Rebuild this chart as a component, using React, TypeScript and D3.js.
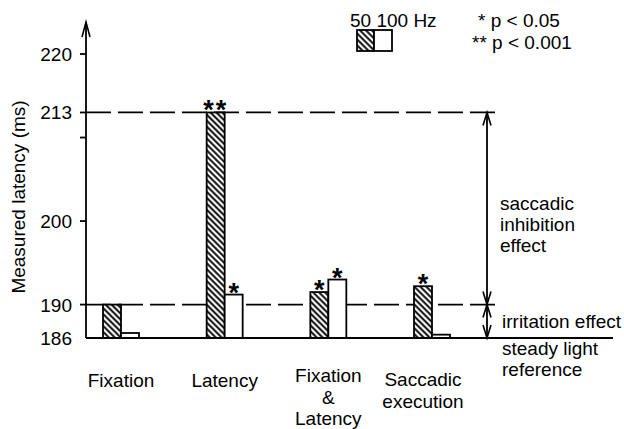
import React, { useRef, useEffect } from 'react';
import * as d3 from 'd3';

// Conditions on the x axis (with multi-line labels)
const categories = ['Fixation', 'Latency', 'Fixation & Latency', 'Saccadic execution'];
const categoryLabels = [['Fixation'], ['Latency'], ['Fixation', '&', 'Latency'], ['Saccadic', 'execution']];

// Measured latency (ms) per condition, 50 Hz and 100 Hz flicker
const latency50 = [190, 213, 191.5, 192.2];
const latency100 = [186.6, 191.2, 193, 186.4];

// significance markers
const sig50 = ['', '**', '*', '*'];
const sig100 = ['', '*', '*', ''];

const series = ['50', '100'];
const yTicks = [190, 200, 210, 213, 220];
const yTickLabels = ['190', '200', '', '213', '220'];

const W = 624;
const H = 429;
const FONT = 'Liberation Sans, Arial, sans-serif';

const App: React.FC = () => {
  const svgRef = useRef<SVGSVGElement>(null);

  useEffect(() => {
    if (!svgRef.current) return;
    const svg = d3.select(svgRef.current);
    svg.selectAll('*').remove();

    const axisX = 86;
    const y = d3.scaleLinear().domain([186, 220]).range([338, 54]);
    const x = d3.scalePoint<string>().domain(categories).range([121, 432]);
    const sub = d3.scaleBand<string>().domain(series).range([-18, 18]).padding(0);

    // hatch pattern (lines running top-left to bottom-right)
    const defs = svg.append('defs');
    const pat = defs.append('pattern')
      .attr('id', 'hatch')
      .attr('patternUnits', 'userSpaceOnUse')
      .attr('width', 4.2)
      .attr('height', 4.2)
      .attr('patternTransform', 'rotate(-45)');
    pat.append('rect').attr('width', 4.2).attr('height', 4.2).attr('fill', '#fff');
    pat.append('line')
      .attr('x1', 2.1).attr('y1', 0).attr('x2', 2.1).attr('y2', 4.2)
      .attr('stroke', '#000').attr('stroke-width', 1.9);

    const g = svg.append('g').style('font-family', FONT);

    // reference dashed lines at 213 and 190
    [213, 190].forEach(v => {
      g.append('line')
        .attr('x1', axisX).attr('x2', 499)
        .attr('y1', y(v)).attr('y2', y(v))
        .attr('stroke', '#000').attr('stroke-width', 1.8)
        .attr('stroke-dasharray', '25,7');
    });

    // bars
    categories.forEach((c, i) => {
      const cx = x(c) as number;
      const vals = [latency50[i], latency100[i]];
      const sigs = [sig50[i], sig100[i]];
      series.forEach((s, j) => {
        const x0 = cx + (sub(s) as number);
        g.append('rect')
          .attr('x', x0)
          .attr('y', y(vals[j]))
          .attr('width', sub.bandwidth())
          .attr('height', y(186) - y(vals[j]))
          .attr('fill', j === 0 ? 'url(#hatch)' : '#fff')
          .attr('stroke', '#000')
          .attr('stroke-width', 1.8);
        if (sigs[j]) {
          g.append('text')
            .attr('x', x0 + sub.bandwidth() / 2)
            .attr('y', y(vals[j]) + 7)
            .attr('text-anchor', 'middle')
            .style('font-size', '27px')
            .style('font-weight', 'bold')
            .attr('letter-spacing', sigs[j].length > 1 ? 2 : 0)
            .text(sigs[j]);
        }
      });
    });

    // baseline (steady light reference)
    g.append('line')
      .attr('x1', axisX).attr('x2', 613)
      .attr('y1', y(186)).attr('y2', y(186))
      .attr('stroke', '#000').attr('stroke-width', 2);

    // y axis with arrow
    g.append('line')
      .attr('x1', axisX).attr('x2', axisX)
      .attr('y1', y(186)).attr('y2', 22)
      .attr('stroke', '#000').attr('stroke-width', 1.8);
    g.append('path')
      .attr('d', `M${axisX - 4},37 L${axisX},22 L${axisX + 4},37`)
      .attr('fill', 'none').attr('stroke', '#000').attr('stroke-width', 1.6);

    yTicks.forEach((t, i) => {
      g.append('line')
        .attr('x1', axisX - 6).attr('x2', axisX)
        .attr('y1', y(t)).attr('y2', y(t))
        .attr('stroke', '#000').attr('stroke-width', 1.8);
      if (yTickLabels[i]) {
        g.append('text')
          .attr('x', axisX - 14)
          .attr('y', y(t) + 7)
          .attr('text-anchor', 'end')
          .style('font-size', '19px')
          .text(yTickLabels[i]);
      }
    });
    g.append('text')
      .attr('x', axisX - 14)
      .attr('y', y(186) + 7)
      .attr('text-anchor', 'end')
      .style('font-size', '19px')
      .text('186');

    g.append('text')
      .attr('transform', `translate(25, 197) rotate(-90)`)
      .attr('text-anchor', 'middle')
      .style('font-size', '19px')
      .text('Measured latency (ms)');

    // category labels
    categories.forEach((c, i) => {
      const lines = categoryLabels[i];
      const base = lines.length === 3 ? 382 : lines.length === 2 ? 386 : 387;
      const step = lines.length === 3 ? 21.5 : 22;
      lines.forEach((l, k) => {
        g.append('text')
          .attr('x', (x(c) as number) + (lines.length === 2 ? -9 : 0))
          .attr('y', base + k * step)
          .attr('text-anchor', 'middle')
          .style('font-size', '19px')
          .text(l);
      });
    });

    // effect arrows on the right
    const ax = 487;
    const arrow = (yTop: number, yBot: number) => {
      g.append('line')
        .attr('x1', ax).attr('x2', ax).attr('y1', yTop).attr('y2', yBot)
        .attr('stroke', '#000').attr('stroke-width', 1.8);
      g.append('path')
        .attr('d', `M${ax - 4},${yTop + 13} L${ax},${yTop} L${ax + 4},${yTop + 13}`)
        .attr('fill', 'none').attr('stroke', '#000').attr('stroke-width', 1.6);
      g.append('path')
        .attr('d', `M${ax - 4},${yBot - 13} L${ax},${yBot} L${ax + 4},${yBot - 13}`)
        .attr('fill', 'none').attr('stroke', '#000').attr('stroke-width', 1.6);
    };
    arrow(y(213), y(190));
    arrow(y(190), y(186));

    const rightText = (lines: string[], x0: number, baselines: number[]) => {
      lines.forEach((l, k) => {
        g.append('text').attr('x', x0).attr('y', baselines[k])
          .style('font-size', '19px').text(l);
      });
    };
    rightText(['saccadic', 'inhibition', 'effect'], 500, [210, 231, 252]);
    rightText(['irritation effect'], 502, [328]);
    rightText(['steady light', 'reference'], 502, [355, 376]);

    // legend
    g.append('text').attr('x', 350).attr('y', 27).style('font-size', '19px').text('50 100 Hz');
    g.append('rect').attr('x', 357).attr('y', 30).attr('width', 17).attr('height', 21)
      .attr('fill', 'url(#hatch)').attr('stroke', '#000').attr('stroke-width', 1.8);
    g.append('rect').attr('x', 374).attr('y', 30).attr('width', 18).attr('height', 21)
      .attr('fill', '#fff').attr('stroke', '#000').attr('stroke-width', 1.8);
    g.append('text').attr('x', 478).attr('y', 27).style('font-size', '19px').text('* p < 0.05');
    g.append('text').attr('x', 472).attr('y', 49).style('font-size', '19px').text('** p < 0.001');
  }, []);

  return (
    <svg
      ref={svgRef}
      width={W}
      height={H}
      style={{ position: 'absolute', left: 0, top: 0, background: '#fff' }}
    />
  );
};

export default App;
